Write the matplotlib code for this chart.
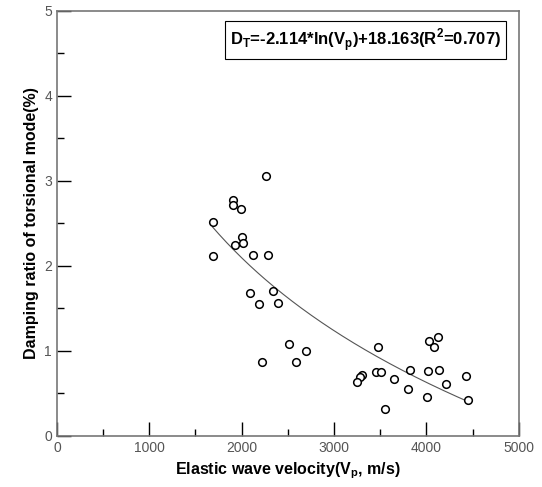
import numpy as np
import matplotlib.pyplot as plt
from matplotlib.ticker import MultipleLocator

plt.rcParams['font.family'] = ['Liberation Sans', 'DejaVu Sans']
plt.rcParams['mathtext.fontset'] = 'custom'
plt.rcParams['mathtext.rm'] = 'Liberation Sans'
plt.rcParams['mathtext.bf'] = 'Liberation Sans:bold'

# measured points: elastic wave velocity (m/s) vs damping ratio (%)
vp = [2262, 1902, 1910, 1992, 1687, 1999, 1928, 2018, 1687, 2118,
      2287, 2341, 2086, 2183, 2395, 2518, 2226, 2593, 2701,
      3478, 4025, 4126, 4083, 3306, 3281, 3252, 3460, 3514, 3647,
      3827, 4018, 4140, 4209, 4432, 3799, 4007, 4450, 3550]
damping = [3.06, 2.77, 2.71, 2.67, 2.52, 2.34, 2.25, 2.27, 2.11, 2.13,
           2.13, 1.70, 1.68, 1.55, 1.56, 1.08, 0.87, 0.87, 1.00,
           1.05, 1.11, 1.16, 1.05, 0.72, 0.69, 0.63, 0.75, 0.75, 0.67,
           0.78, 0.76, 0.78, 0.61, 0.70, 0.55, 0.46, 0.42, 0.32]

# fitted curve D = a*ln(Vp) + b
fit_a = -2.114
fit_b = 18.163
fit_range = [1687, 4450]

fig = plt.figure(figsize=(5.42, 4.87), dpi=100)
ax = fig.add_axes([0.105, 0.105, 0.852, 0.873])

xs = np.linspace(fit_range[0], fit_range[1], 200)
ax.plot(xs, fit_a * np.log(xs) + fit_b, color='#555555', lw=0.8)
ax.plot(vp, damping, 'o', mfc='white', mec='black', ms=5.5, mew=1.1)

ax.set_xlim(0, 5000)
ax.set_ylim(0, 5)
ax.xaxis.set_major_locator(MultipleLocator(1000))
ax.xaxis.set_minor_locator(MultipleLocator(500))
ax.yaxis.set_major_locator(MultipleLocator(1))
ax.yaxis.set_minor_locator(MultipleLocator(0.5))
ax.tick_params(which='both', direction='in', color='black', width=1,
               labelcolor='#555555', labelsize=10)
ax.tick_params(which='major', length=10)
ax.tick_params(which='minor', length=5)
for s in ax.spines.values():
    s.set_color('#777777')
    s.set_linewidth(1.2)

ax.set_xlabel(r'Elastic wave velocity(V$_\mathbf{p}$, m/s)', fontweight='bold', fontsize=11.5)
ax.set_ylabel('Damping ratio of torsional mode(%)', fontweight='bold', fontsize=11.5)

eq = r'D$_\mathbf{T}$=-2.114*ln(V$_\mathbf{p}$)+18.163(R$^\mathbf{2}$=0.707)'
ax.text(0.962, 0.963, eq, transform=ax.transAxes, ha='right', va='top',
        fontsize=12, fontweight='bold',
        bbox=dict(boxstyle='square,pad=0.3', fc='white', ec='black', lw=0.8))

fig.savefig('out.png', dpi=100)
